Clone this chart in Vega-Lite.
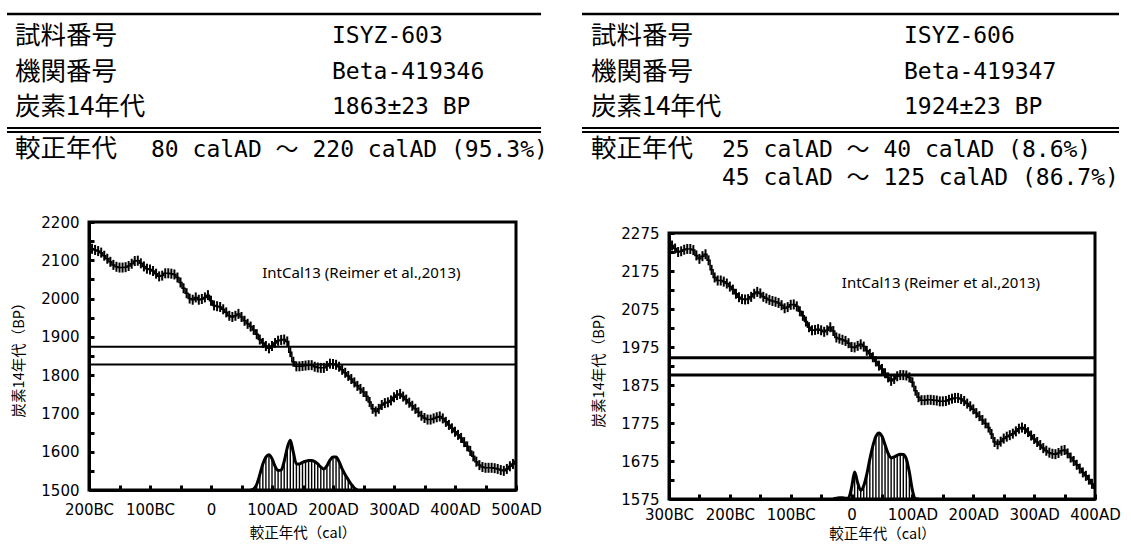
{
  "$schema": "https://vega.github.io/schema/vega-lite/v6.json",
  "padding": {"left": 5, "top": 12, "right": 5, "bottom": 2},
  "background": "white",
  "spacing": 32,
  "config": {
    "view": {"stroke": null},
    "axis": {"labelFont": "DejaVu Sans", "labelFontSize": 15, "labelColor": "black", "titleFont": "Noto Sans CJK JP", "titleFontSize": 14.5, "titleFontWeight": "normal", "titleColor": "black", "tickColor": "black", "domainColor": "black", "domainWidth": 3, "grid": false, "labelFlush": false, "labelOverlap": false, "tickSize": -5, "tickWidth": 3}
  },
  "datasets": {
    "tableL": [
      {"row": 1, "col": 0, "text": "試料番号"},
      {"row": 1, "col": 2, "text": "ISYZ-603"},
      {"row": 2, "col": 0, "text": "機関番号"},
      {"row": 2, "col": 2, "text": "Beta-419346"},
      {"row": 3, "col": 0, "text": "炭素14年代"},
      {"row": 3, "col": 2, "text": "1863±23 BP"},
      {"row": 4, "col": 0, "text": "較正年代"},
      {"row": 4, "col": 1, "text": "80 calAD ～ 220 calAD (95.3%)"}
    ],
    "tableR": [
      {"row": 1, "col": 0, "text": "試料番号"},
      {"row": 1, "col": 2, "text": "ISYZ-606"},
      {"row": 2, "col": 0, "text": "機関番号"},
      {"row": 2, "col": 2, "text": "Beta-419347"},
      {"row": 3, "col": 0, "text": "炭素14年代"},
      {"row": 3, "col": 2, "text": "1924±23 BP"},
      {"row": 4, "col": 0, "text": "較正年代"},
      {"row": 4, "col": 1, "text": ["25 calAD ～ 40 calAD (8.6%)", "45 calAD ～ 125 calAD (86.7%)"]}
    ],
    "curveL": [
      {"year": -200, "bp": 2135}, {"year": -195, "bp": 2130}, {"year": -190, "bp": 2127}, {"year": -185, "bp": 2124}, {"year": -180, "bp": 2120},
      {"year": -175, "bp": 2112}, {"year": -170, "bp": 2104}, {"year": -165, "bp": 2096}, {"year": -160, "bp": 2088}, {"year": -155, "bp": 2083},
      {"year": -150, "bp": 2081}, {"year": -145, "bp": 2081}, {"year": -140, "bp": 2082}, {"year": -135, "bp": 2085}, {"year": -130, "bp": 2091},
      {"year": -125, "bp": 2098}, {"year": -120, "bp": 2099}, {"year": -115, "bp": 2092}, {"year": -110, "bp": 2084}, {"year": -105, "bp": 2078},
      {"year": -100, "bp": 2076}, {"year": -95, "bp": 2072}, {"year": -90, "bp": 2065}, {"year": -85, "bp": 2058}, {"year": -80, "bp": 2060},
      {"year": -75, "bp": 2066}, {"year": -70, "bp": 2066}, {"year": -65, "bp": 2065}, {"year": -60, "bp": 2063}, {"year": -55, "bp": 2055},
      {"year": -50, "bp": 2042}, {"year": -45, "bp": 2027}, {"year": -40, "bp": 2014}, {"year": -35, "bp": 2000}, {"year": -30, "bp": 1997},
      {"year": -25, "bp": 2003}, {"year": -20, "bp": 1997}, {"year": -15, "bp": 1999}, {"year": -10, "bp": 2003}, {"year": -5, "bp": 2009},
      {"year": 0, "bp": 1994}, {"year": 5, "bp": 1982}, {"year": 10, "bp": 1980}, {"year": 15, "bp": 1978}, {"year": 20, "bp": 1972},
      {"year": 25, "bp": 1964}, {"year": 30, "bp": 1955}, {"year": 35, "bp": 1952}, {"year": 40, "bp": 1955}, {"year": 45, "bp": 1960},
      {"year": 50, "bp": 1952}, {"year": 55, "bp": 1942}, {"year": 60, "bp": 1934}, {"year": 65, "bp": 1927}, {"year": 70, "bp": 1918},
      {"year": 75, "bp": 1907}, {"year": 80, "bp": 1893}, {"year": 85, "bp": 1884}, {"year": 90, "bp": 1876}, {"year": 95, "bp": 1870},
      {"year": 100, "bp": 1876}, {"year": 105, "bp": 1884}, {"year": 110, "bp": 1890}, {"year": 115, "bp": 1892}, {"year": 120, "bp": 1893},
      {"year": 125, "bp": 1888}, {"year": 130, "bp": 1860}, {"year": 135, "bp": 1835}, {"year": 140, "bp": 1823}, {"year": 145, "bp": 1823},
      {"year": 150, "bp": 1824}, {"year": 155, "bp": 1825}, {"year": 160, "bp": 1826}, {"year": 165, "bp": 1826}, {"year": 170, "bp": 1822},
      {"year": 175, "bp": 1820}, {"year": 180, "bp": 1819}, {"year": 185, "bp": 1819}, {"year": 190, "bp": 1824}, {"year": 195, "bp": 1830},
      {"year": 200, "bp": 1829}, {"year": 205, "bp": 1827}, {"year": 210, "bp": 1822}, {"year": 215, "bp": 1814}, {"year": 220, "bp": 1806},
      {"year": 225, "bp": 1798}, {"year": 230, "bp": 1790}, {"year": 235, "bp": 1781}, {"year": 240, "bp": 1772}, {"year": 245, "bp": 1764},
      {"year": 250, "bp": 1756}, {"year": 255, "bp": 1745}, {"year": 260, "bp": 1730}, {"year": 265, "bp": 1712}, {"year": 270, "bp": 1705},
      {"year": 275, "bp": 1712}, {"year": 280, "bp": 1722}, {"year": 285, "bp": 1727}, {"year": 290, "bp": 1729}, {"year": 295, "bp": 1734},
      {"year": 300, "bp": 1742}, {"year": 305, "bp": 1748}, {"year": 310, "bp": 1751}, {"year": 315, "bp": 1744}, {"year": 320, "bp": 1736},
      {"year": 325, "bp": 1728}, {"year": 330, "bp": 1720}, {"year": 335, "bp": 1712}, {"year": 340, "bp": 1703}, {"year": 345, "bp": 1694},
      {"year": 350, "bp": 1688}, {"year": 355, "bp": 1684}, {"year": 360, "bp": 1684}, {"year": 365, "bp": 1687}, {"year": 370, "bp": 1690},
      {"year": 375, "bp": 1692}, {"year": 380, "bp": 1687}, {"year": 385, "bp": 1678}, {"year": 390, "bp": 1670}, {"year": 395, "bp": 1661},
      {"year": 400, "bp": 1652}, {"year": 405, "bp": 1644}, {"year": 410, "bp": 1636}, {"year": 415, "bp": 1625}, {"year": 420, "bp": 1614},
      {"year": 425, "bp": 1602}, {"year": 430, "bp": 1588}, {"year": 435, "bp": 1574}, {"year": 440, "bp": 1565}, {"year": 445, "bp": 1560},
      {"year": 450, "bp": 1558}, {"year": 455, "bp": 1558}, {"year": 460, "bp": 1558}, {"year": 465, "bp": 1557}, {"year": 470, "bp": 1555},
      {"year": 475, "bp": 1552}, {"year": 480, "bp": 1550}, {"year": 485, "bp": 1555}, {"year": 490, "bp": 1562}, {"year": 495, "bp": 1568},
      {"year": 500, "bp": 1575}
    ],
    "curveR": [
      {"year": -300, "bp": 2245}, {"year": -295, "bp": 2242}, {"year": -290, "bp": 2234}, {"year": -285, "bp": 2225}, {"year": -280, "bp": 2227},
      {"year": -275, "bp": 2231}, {"year": -270, "bp": 2233}, {"year": -265, "bp": 2233}, {"year": -260, "bp": 2230}, {"year": -255, "bp": 2216},
      {"year": -250, "bp": 2207}, {"year": -245, "bp": 2214}, {"year": -240, "bp": 2219}, {"year": -235, "bp": 2203}, {"year": -230, "bp": 2178},
      {"year": -225, "bp": 2158}, {"year": -220, "bp": 2150}, {"year": -215, "bp": 2150}, {"year": -210, "bp": 2147}, {"year": -205, "bp": 2142},
      {"year": -200, "bp": 2134}, {"year": -195, "bp": 2126}, {"year": -190, "bp": 2115}, {"year": -185, "bp": 2106}, {"year": -180, "bp": 2101},
      {"year": -175, "bp": 2100}, {"year": -170, "bp": 2101}, {"year": -165, "bp": 2107}, {"year": -160, "bp": 2115}, {"year": -155, "bp": 2120},
      {"year": -150, "bp": 2116}, {"year": -145, "bp": 2107}, {"year": -140, "bp": 2103}, {"year": -135, "bp": 2099}, {"year": -130, "bp": 2096},
      {"year": -125, "bp": 2094}, {"year": -120, "bp": 2091}, {"year": -115, "bp": 2085}, {"year": -110, "bp": 2077}, {"year": -105, "bp": 2080},
      {"year": -100, "bp": 2086}, {"year": -95, "bp": 2087}, {"year": -90, "bp": 2082}, {"year": -85, "bp": 2069}, {"year": -80, "bp": 2057},
      {"year": -75, "bp": 2042}, {"year": -70, "bp": 2027}, {"year": -65, "bp": 2019}, {"year": -60, "bp": 2020}, {"year": -55, "bp": 2022},
      {"year": -50, "bp": 2019}, {"year": -45, "bp": 2015}, {"year": -40, "bp": 2019}, {"year": -35, "bp": 2027}, {"year": -30, "bp": 2017},
      {"year": -25, "bp": 2000}, {"year": -20, "bp": 1997}, {"year": -15, "bp": 1994}, {"year": -10, "bp": 1991}, {"year": -5, "bp": 1985},
      {"year": 0, "bp": 1975}, {"year": 5, "bp": 1974}, {"year": 10, "bp": 1978}, {"year": 15, "bp": 1982}, {"year": 20, "bp": 1976},
      {"year": 25, "bp": 1965}, {"year": 30, "bp": 1957}, {"year": 35, "bp": 1948}, {"year": 40, "bp": 1937}, {"year": 45, "bp": 1926},
      {"year": 50, "bp": 1917}, {"year": 55, "bp": 1906}, {"year": 60, "bp": 1895}, {"year": 65, "bp": 1886}, {"year": 70, "bp": 1891},
      {"year": 75, "bp": 1898}, {"year": 80, "bp": 1901}, {"year": 85, "bp": 1901}, {"year": 90, "bp": 1900}, {"year": 95, "bp": 1895},
      {"year": 100, "bp": 1882}, {"year": 105, "bp": 1860}, {"year": 110, "bp": 1843}, {"year": 115, "bp": 1835}, {"year": 120, "bp": 1835},
      {"year": 125, "bp": 1836}, {"year": 130, "bp": 1836}, {"year": 135, "bp": 1835}, {"year": 140, "bp": 1834}, {"year": 145, "bp": 1832},
      {"year": 150, "bp": 1832}, {"year": 155, "bp": 1833}, {"year": 160, "bp": 1836}, {"year": 165, "bp": 1839}, {"year": 170, "bp": 1841},
      {"year": 175, "bp": 1841}, {"year": 180, "bp": 1838}, {"year": 185, "bp": 1833}, {"year": 190, "bp": 1826}, {"year": 195, "bp": 1819},
      {"year": 200, "bp": 1811}, {"year": 205, "bp": 1801}, {"year": 210, "bp": 1793}, {"year": 215, "bp": 1783}, {"year": 220, "bp": 1774},
      {"year": 225, "bp": 1763}, {"year": 230, "bp": 1746}, {"year": 235, "bp": 1725}, {"year": 240, "bp": 1719}, {"year": 245, "bp": 1726},
      {"year": 250, "bp": 1734}, {"year": 255, "bp": 1739}, {"year": 260, "bp": 1743}, {"year": 265, "bp": 1747}, {"year": 270, "bp": 1753},
      {"year": 275, "bp": 1760}, {"year": 280, "bp": 1763}, {"year": 285, "bp": 1759}, {"year": 290, "bp": 1751}, {"year": 295, "bp": 1742},
      {"year": 300, "bp": 1733}, {"year": 305, "bp": 1725}, {"year": 310, "bp": 1717}, {"year": 315, "bp": 1709}, {"year": 320, "bp": 1702},
      {"year": 325, "bp": 1697}, {"year": 330, "bp": 1694}, {"year": 335, "bp": 1693}, {"year": 340, "bp": 1696}, {"year": 345, "bp": 1702},
      {"year": 350, "bp": 1704}, {"year": 355, "bp": 1695}, {"year": 360, "bp": 1684}, {"year": 365, "bp": 1675}, {"year": 370, "bp": 1665},
      {"year": 375, "bp": 1655}, {"year": 380, "bp": 1645}, {"year": 385, "bp": 1636}, {"year": 390, "bp": 1626}, {"year": 395, "bp": 1615},
      {"year": 400, "bp": 1603}
    ],
    "distL": [
      {"year": 65, "bp": 1500}, {"year": 70, "bp": 1503}, {"year": 75, "bp": 1515}, {"year": 80, "bp": 1540}, {"year": 85, "bp": 1568},
      {"year": 90, "bp": 1586}, {"year": 95, "bp": 1592}, {"year": 100, "bp": 1582}, {"year": 105, "bp": 1562}, {"year": 110, "bp": 1551},
      {"year": 115, "bp": 1552}, {"year": 120, "bp": 1575}, {"year": 125, "bp": 1610}, {"year": 130, "bp": 1630}, {"year": 135, "bp": 1598},
      {"year": 140, "bp": 1568}, {"year": 145, "bp": 1568}, {"year": 150, "bp": 1572}, {"year": 155, "bp": 1575}, {"year": 160, "bp": 1577},
      {"year": 165, "bp": 1577}, {"year": 170, "bp": 1574}, {"year": 175, "bp": 1568}, {"year": 180, "bp": 1560}, {"year": 185, "bp": 1555},
      {"year": 190, "bp": 1563}, {"year": 195, "bp": 1578}, {"year": 200, "bp": 1586}, {"year": 205, "bp": 1586}, {"year": 210, "bp": 1574},
      {"year": 215, "bp": 1555}, {"year": 220, "bp": 1540}, {"year": 225, "bp": 1527}, {"year": 230, "bp": 1515}, {"year": 235, "bp": 1505},
      {"year": 240, "bp": 1500}
    ],
    "distR": [
      {"year": -30, "bp": 1575}, {"year": -25, "bp": 1577}, {"year": -20, "bp": 1578}, {"year": -15, "bp": 1578}, {"year": -10, "bp": 1577},
      {"year": -5, "bp": 1578}, {"year": 0, "bp": 1605}, {"year": 5, "bp": 1646}, {"year": 10, "bp": 1618}, {"year": 15, "bp": 1598},
      {"year": 20, "bp": 1610}, {"year": 25, "bp": 1640}, {"year": 30, "bp": 1680}, {"year": 35, "bp": 1715}, {"year": 40, "bp": 1740},
      {"year": 45, "bp": 1749}, {"year": 50, "bp": 1740}, {"year": 55, "bp": 1718}, {"year": 60, "bp": 1695}, {"year": 65, "bp": 1683},
      {"year": 70, "bp": 1686}, {"year": 75, "bp": 1690}, {"year": 80, "bp": 1693}, {"year": 85, "bp": 1692}, {"year": 90, "bp": 1680},
      {"year": 95, "bp": 1645}, {"year": 100, "bp": 1598}, {"year": 105, "bp": 1576}, {"year": 110, "bp": 1575}
    ]
  },
  "hconcat": [
    {
      "vconcat": [
        {
          "width": 427, "height": 200,
          "view": {"stroke": null},
          "layer": [
            {"data": {"name": "tableL"}, "transform": [{"filter": "datum.row < 4 && datum.col == 0"}],
             "mark": {"type": "text", "align": "left", "baseline": "middle", "font": "Noto Sans CJK JP", "fontSize": 25.5, "color": "black"},
             "encoding": {
               "x": {"field": "col", "type": "quantitative", "scale": {"domain": [0, 2], "range": [-74, 243], "nice": false, "zero": false}, "axis": null},
               "y": {"field": "row", "type": "quantitative", "scale": {"domain": [0.38, 6.014], "reverse": true, "nice": false, "zero": false}, "axis": null},
               "text": {"field": "text", "type": "nominal"}
             }},
            {"data": {"name": "tableL"}, "transform": [{"filter": "datum.row < 4 && datum.col == 2"}],
             "mark": {"type": "text", "align": "left", "baseline": "middle", "font": "DejaVu Sans Mono, Noto Sans CJK JP", "fontSize": 23, "color": "black"},
             "encoding": {"x": {"field": "col", "type": "quantitative"}, "y": {"field": "row", "type": "quantitative"}, "text": {"field": "text", "type": "nominal"}}},
            {"data": {"name": "tableL"}, "transform": [{"filter": "datum.row == 4 && datum.col == 0"}],
             "mark": {"type": "text", "align": "left", "baseline": "middle", "dy": 6.5, "font": "Noto Sans CJK JP", "fontSize": 25.5, "color": "black"},
             "encoding": {"x": {"field": "col", "type": "quantitative"}, "y": {"field": "row", "type": "quantitative"}, "text": {"field": "text", "type": "nominal"}}},
            {"data": {"name": "tableL"}, "transform": [{"filter": "datum.row == 4 && datum.col == 1"}],
             "mark": {"type": "text", "align": "left", "baseline": "top", "dy": -4, "dx": -22.5, "lineHeight": 28, "font": "DejaVu Sans Mono, Noto Sans CJK JP", "fontSize": 23, "color": "black"},
             "encoding": {"x": {"field": "col", "type": "quantitative"}, "y": {"field": "row", "type": "quantitative"}, "text": {"field": "text", "type": "nominal"}}},
            {"data": {"values": [{}]}, "mark": {"type": "rule", "strokeWidth": 2.4, "color": "black"},
             "encoding": {"x": {"datum": -0.0505, "type": "quantitative"}, "x2": {"datum": 3.319}, "y": {"datum": 0.38, "type": "quantitative"}}},
            {"data": {"values": [{}]}, "mark": {"type": "rule", "strokeWidth": 2, "color": "black"},
             "encoding": {"x": {"datum": -0.0505, "type": "quantitative"}, "x2": {"datum": 3.319}, "y": {"datum": 3.591, "type": "quantitative"}}},
            {"data": {"values": [{}]}, "mark": {"type": "rule", "strokeWidth": 2, "color": "black"},
             "encoding": {"x": {"datum": -0.0505, "type": "quantitative"}, "x2": {"datum": 3.319}, "y": {"datum": 3.704, "type": "quantitative"}}}
          ]
        },
        {
          "width": 427, "height": 268,
          "view": {"stroke": "black", "strokeWidth": 3},
          "layer": [
            {"data": {"name": "curveL"},
             "mark": {"type": "line", "interpolate": "step", "color": "black", "strokeWidth": 1.5},
             "encoding": {
               "x": {"field": "year", "type": "quantitative", "scale": {"domain": [-200, 500], "nice": false, "zero": false},
                     "axis": {"values": [-200, -150, -100, -50, 0, 50, 100, 150, 200, 250, 300, 350, 400, 450, 500], "tickCount": 100,
                              "labelExpr": "datum.value % 100 != 0 ? '' : (datum.value < 0 ? (-datum.value) + 'BC' : (datum.value == 0 ? '0' : datum.value + 'AD'))",
                              "labelOverlap": false, "labelPadding": 17.5, "title": "較正年代（cal）", "titlePadding": 9}},
               "y": {"field": "bp", "type": "quantitative", "scale": {"domain": [1500, 2200], "nice": false, "zero": false},
                     "axis": {"values": [1500, 1550, 1600, 1650, 1700, 1750, 1800, 1850, 1900, 1950, 2000, 2050, 2100, 2150, 2200], "tickCount": 100,
                              "format": "d", "labelExpr": "datum.value % 100 == 0 ? datum.label : ''",
                              "labelOverlap": false, "labelPadding": 15, "title": "炭素14年代（BP）", "titlePadding": 14}}
             }},
            {"data": {"name": "curveL"},
             "mark": {"type": "tick", "orient": "vertical", "size": 10, "thickness": 2, "color": "black", "opacity": 1},
             "encoding": {"x": {"field": "year", "type": "quantitative"}, "y": {"field": "bp", "type": "quantitative"}}},
            {"data": {"values": [{"bp": 1874}, {"bp": 1828}]},
             "mark": {"type": "rule", "strokeWidth": 2, "color": "black"},
             "encoding": {"y": {"field": "bp", "type": "quantitative"}}},
            {"data": {"name": "distL"},
             "mark": {"type": "rule", "strokeWidth": 1.4, "color": "black"},
             "encoding": {"x": {"field": "year", "type": "quantitative"}, "y": {"field": "bp", "type": "quantitative"}, "y2": {"datum": 1500}}},
            {"data": {"name": "distL"},
             "mark": {"type": "line", "interpolate": "monotone", "strokeWidth": 3, "color": "black"},
             "encoding": {"x": {"field": "year", "type": "quantitative"}, "y": {"field": "bp", "type": "quantitative"}}},
            {"data": {"values": [{}]},
             "mark": {"type": "text", "text": "IntCal13 (Reimer et al.,2013)", "align": "left", "baseline": "middle", "font": "Noto Sans", "fontSize": 15, "color": "black"},
             "encoding": {"x": {"datum": 84, "type": "quantitative"}, "y": {"datum": 2067, "type": "quantitative"}}}
          ]
        }
      ],
      "spacing": 8,
      "bounds": "flush"
    },
    {
      "vconcat": [
        {
          "width": 427, "height": 200,
          "view": {"stroke": null},
          "layer": [
            {"data": {"name": "tableR"}, "transform": [{"filter": "datum.row < 4 && datum.col == 0"}],
             "mark": {"type": "text", "align": "left", "baseline": "middle", "font": "Noto Sans CJK JP", "fontSize": 25.5, "color": "black"},
             "encoding": {
               "x": {"field": "col", "type": "quantitative", "scale": {"domain": [0, 2], "range": [-78, 235], "nice": false, "zero": false}, "axis": null},
               "y": {"field": "row", "type": "quantitative", "scale": {"domain": [0.38, 6.014], "reverse": true, "nice": false, "zero": false}, "axis": null},
               "text": {"field": "text", "type": "nominal"}
             }},
            {"data": {"name": "tableR"}, "transform": [{"filter": "datum.row < 4 && datum.col == 2"}],
             "mark": {"type": "text", "align": "left", "baseline": "middle", "font": "DejaVu Sans Mono, Noto Sans CJK JP", "fontSize": 23, "color": "black"},
             "encoding": {"x": {"field": "col", "type": "quantitative"}, "y": {"field": "row", "type": "quantitative"}, "text": {"field": "text", "type": "nominal"}}},
            {"data": {"name": "tableR"}, "transform": [{"filter": "datum.row == 4 && datum.col == 0"}],
             "mark": {"type": "text", "align": "left", "baseline": "middle", "dy": 6.5, "font": "Noto Sans CJK JP", "fontSize": 25.5, "color": "black"},
             "encoding": {"x": {"field": "col", "type": "quantitative"}, "y": {"field": "row", "type": "quantitative"}, "text": {"field": "text", "type": "nominal"}}},
            {"data": {"name": "tableR"}, "transform": [{"filter": "datum.row == 4 && datum.col == 1"}],
             "mark": {"type": "text", "align": "left", "baseline": "top", "dy": -4, "dx": -25.5, "lineHeight": 28, "font": "DejaVu Sans Mono, Noto Sans CJK JP", "fontSize": 23, "color": "black"},
             "encoding": {"x": {"field": "col", "type": "quantitative"}, "y": {"field": "row", "type": "quantitative"}, "text": {"field": "text", "type": "nominal"}}},
            {"data": {"values": [{}]}, "mark": {"type": "rule", "strokeWidth": 2.4, "color": "black"},
             "encoding": {"x": {"datum": -0.0575, "type": "quantitative"}, "x2": {"datum": 3.374}, "y": {"datum": 0.38, "type": "quantitative"}}},
            {"data": {"values": [{}]}, "mark": {"type": "rule", "strokeWidth": 2, "color": "black"},
             "encoding": {"x": {"datum": -0.0575, "type": "quantitative"}, "x2": {"datum": 3.374}, "y": {"datum": 3.591, "type": "quantitative"}}},
            {"data": {"values": [{}]}, "mark": {"type": "rule", "strokeWidth": 2, "color": "black"},
             "encoding": {"x": {"datum": -0.0575, "type": "quantitative"}, "x2": {"datum": 3.374}, "y": {"datum": 3.704, "type": "quantitative"}}}
          ]
        },
        {
          "width": 426, "height": 266,
          "view": {"stroke": "black", "strokeWidth": 3},
          "layer": [
            {"data": {"name": "curveR"},
             "mark": {"type": "line", "interpolate": "step", "color": "black", "strokeWidth": 1.5},
             "encoding": {
               "x": {"field": "year", "type": "quantitative", "scale": {"domain": [-300, 400], "nice": false, "zero": false},
                     "axis": {"values": [-300, -250, -200, -150, -100, -50, 0, 50, 100, 150, 200, 250, 300, 350, 400], "tickCount": 100,
                              "labelExpr": "datum.value % 100 != 0 ? '' : (datum.value < 0 ? (-datum.value) + 'BC' : (datum.value == 0 ? '0' : datum.value + 'AD'))",
                              "labelOverlap": false, "labelPadding": 13, "title": "較正年代（cal）", "titlePadding": 5}},
               "y": {"field": "bp", "type": "quantitative", "scale": {"domain": [1575, 2275], "nice": false, "zero": false},
                     "axis": {"values": [1575, 1625, 1675, 1725, 1775, 1825, 1875, 1925, 1975, 2025, 2075, 2125, 2175, 2225, 2275], "tickCount": 100,
                              "format": "d", "labelExpr": "(datum.value - 1575) % 100 == 0 ? datum.label : ''",
                              "labelOverlap": false, "labelPadding": 15, "title": "炭素14年代（BP）", "titlePadding": 14}}
             }},
            {"data": {"name": "curveR"},
             "mark": {"type": "tick", "orient": "vertical", "size": 10, "thickness": 2, "color": "black", "opacity": 1},
             "encoding": {"x": {"field": "year", "type": "quantitative"}, "y": {"field": "bp", "type": "quantitative"}}},
            {"data": {"values": [{"bp": 1947}, {"bp": 1901}]},
             "mark": {"type": "rule", "strokeWidth": 3, "color": "black"},
             "encoding": {"y": {"field": "bp", "type": "quantitative"}}},
            {"data": {"name": "distR"},
             "mark": {"type": "rule", "strokeWidth": 1.4, "color": "black"},
             "encoding": {"x": {"field": "year", "type": "quantitative"}, "y": {"field": "bp", "type": "quantitative"}, "y2": {"datum": 1575}}},
            {"data": {"name": "distR"},
             "mark": {"type": "line", "interpolate": "monotone", "strokeWidth": 3, "color": "black"},
             "encoding": {"x": {"field": "year", "type": "quantitative"}, "y": {"field": "bp", "type": "quantitative"}}},
            {"data": {"values": [{}]},
             "mark": {"type": "text", "text": "IntCal13 (Reimer et al.,2013)", "align": "left", "baseline": "middle", "font": "Noto Sans", "fontSize": 15, "color": "black"},
             "encoding": {"x": {"datum": -16, "type": "quantitative"}, "y": {"datum": 2144, "type": "quantitative"}}}
          ]
        }
      ],
      "spacing": 19,
      "bounds": "flush"
    }
  ]
}
